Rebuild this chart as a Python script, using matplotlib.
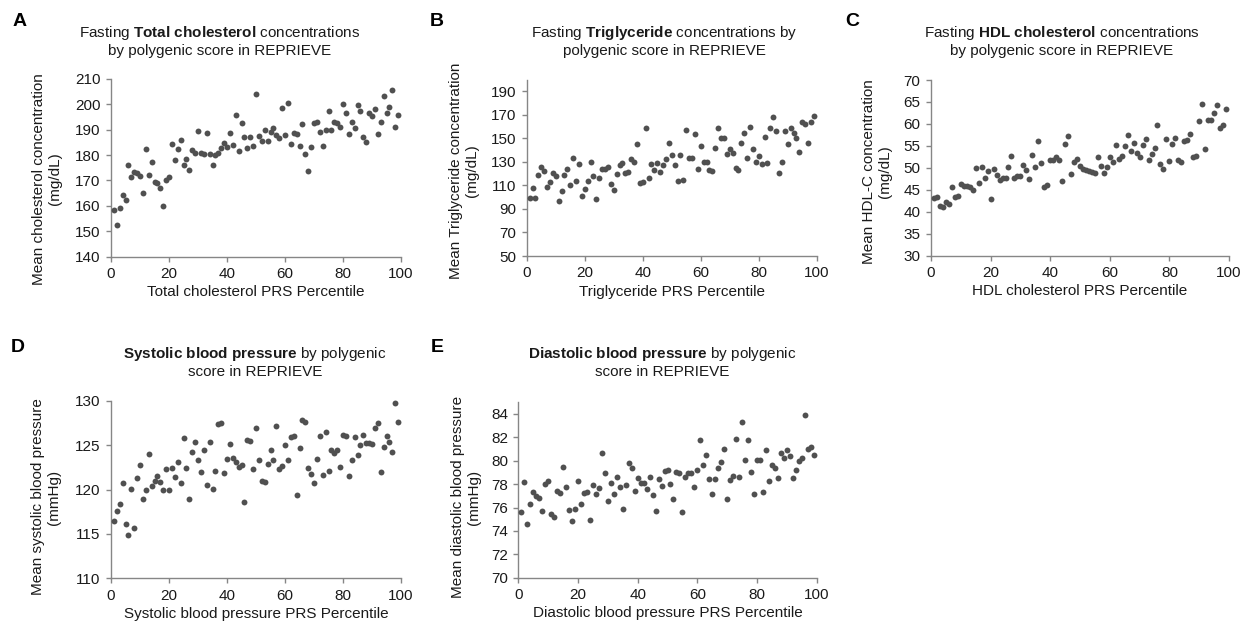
import numpy as np
import matplotlib
matplotlib.use("Agg")
import matplotlib.pyplot as plt

plt.rcParams['font.family'] = ['Liberation Sans', 'DejaVu Sans']
plt.rcParams['mathtext.fontset'] = 'custom'
plt.rcParams['mathtext.rm'] = 'Liberation Sans'
plt.rcParams['mathtext.bf'] = 'Liberation Sans:bold'
plt.rcParams['mathtext.it'] = 'Liberation Sans:italic'

# percentile bins 1..99
percentile = np.arange(1, 100)

total_chol = [
    158.3, 152.4, 159.2, 164.2, 162.2, 176.1, 171.2, 173.4, 173.0, 171.8,
    165.1, 182.2, 172.1, 177.4, 169.5, 168.8, 167.2, 160.0, 170.1, 171.2,
    184.3, 178.0, 182.4, 185.9, 175.9, 178.3, 174.3, 182.0, 180.9, 189.3,
    180.7, 180.3, 188.7, 180.3, 175.9, 180.0, 180.9, 182.9, 184.6, 183.3,
    188.9, 183.9, 195.7, 181.6, 192.6, 187.0, 182.9, 187.2, 183.7, 203.9,
    187.5, 185.7, 190.0, 185.7, 189.2, 190.5, 187.9, 186.8, 198.7, 187.9,
    200.7, 184.2, 188.6, 188.3, 183.6, 192.1, 180.4, 173.9, 183.0, 192.6,
    192.9, 189.2, 183.4, 190.0, 197.4, 190.0, 193.2, 192.8, 190.9, 200.3,
    196.4, 188.2, 192.9, 190.8, 199.6, 197.2, 187.1, 185.0, 196.6, 195.5,
    198.2, 188.2, 193.2, 203.2, 196.4, 199.1, 205.7, 191.2, 195.8]

triglyceride = [
    99.2, 107.4, 98.9, 118.7, 125.8, 122.4, 108.5, 112.8, 120.1, 118.1,
    96.4, 104.9, 118.7, 123.5, 110.5, 132.9, 113.6, 128.0, 101.2, 107.1,
    113.9, 130.0, 118.1, 98.6, 116.4, 124.1, 124.1, 125.2, 110.8, 106.0,
    119.8, 127.5, 128.6, 120.1, 121.0, 132.3, 129.5, 145.0, 112.2, 113.1,
    158.3, 115.9, 128.0, 122.7, 128.6, 121.3, 126.9, 132.0, 145.6, 136.0,
    127.5, 113.3, 135.4, 114.2, 156.6, 133.4, 133.4, 153.8, 124.1, 143.6,
    129.5, 129.7, 123.2, 122.1, 141.3, 158.9, 149.8, 150.1, 136.5, 141.1,
    137.1, 124.7, 123.0, 145.9, 154.6, 133.4, 159.4, 140.8, 129.7, 134.8,
    128.0, 150.7, 129.2, 158.3, 167.7, 156.3, 120.1, 130.0, 156.3, 145.0,
    158.3, 154.6, 150.1, 138.2, 164.0, 162.0, 146.2, 164.0, 168.8]

hdl = [
    43.1, 43.3, 41.4, 41.1, 42.2, 41.8, 45.7, 43.3, 43.6, 46.3,
    45.9, 45.9, 45.6, 45.0, 49.9, 46.6, 50.2, 47.6, 49.2, 43.0,
    49.7, 48.3, 47.2, 47.7, 47.7, 50.3, 52.8, 47.7, 48.1, 48.2,
    50.7, 49.4, 47.5, 52.9, 50.2, 56.0, 51.0, 45.6, 46.2, 51.8,
    51.7, 52.4, 51.9, 47.0, 55.4, 57.3, 48.6, 51.3, 52.1, 50.4,
    49.8, 49.5, 49.3, 49.0, 48.8, 52.5, 50.4, 48.9, 50.3, 52.5,
    51.3, 55.1, 52.0, 52.7, 54.9, 57.4, 53.9, 55.6, 53.3, 52.5,
    55.2, 56.6, 51.7, 53.1, 54.5, 59.8, 50.8, 49.8, 56.6, 51.6,
    55.4, 56.8, 51.7, 51.3, 56.0, 56.3, 57.7, 52.5, 52.7, 60.7,
    64.6, 54.2, 60.9, 60.8, 62.4, 64.2, 59.0, 59.7, 63.5]

systolic = [
    116.5, 117.6, 118.4, 120.7, 116.1, 114.9, 120.1, 115.7, 121.3, 122.8,
    119.0, 120.0, 124.0, 120.4, 121.0, 121.5, 120.9, 120.0, 122.3, 120.0,
    122.4, 121.4, 123.1, 120.8, 125.8, 122.4, 118.9, 124.2, 125.4, 123.3,
    122.0, 124.5, 120.5, 125.4, 120.1, 122.1, 127.4, 127.5, 121.9, 123.5,
    125.2, 123.6, 123.1, 122.5, 122.8, 118.6, 125.6, 125.5, 122.3, 126.9,
    123.3, 121.0, 120.9, 122.9, 124.5, 123.4, 127.2, 122.3, 122.7, 125.0,
    123.3, 125.9, 126.0, 119.4, 124.7, 127.9, 127.6, 122.4, 121.8, 120.8,
    123.5, 126.1, 121.7, 126.5, 122.1, 124.5, 124.1, 124.5, 122.6, 126.2,
    126.1, 121.5, 123.3, 125.9, 123.9, 125.0, 126.2, 125.3, 125.3, 125.2,
    127.0, 127.5, 122.0, 124.8, 126.1, 125.4, 124.3, 129.8, 127.6]

diastolic = [
    75.65, 78.16, 74.63, 76.34, 77.33, 76.96, 76.82, 75.71, 77.99, 78.25,
    75.48, 75.17, 77.42, 77.25, 79.50, 77.79, 75.79, 74.88, 75.85, 78.30,
    76.34, 77.22, 77.30, 74.97, 77.96, 77.13, 77.68, 80.70, 78.93, 76.56,
    78.07, 77.16, 78.59, 77.73, 75.85, 77.93, 79.78, 79.36, 77.42, 78.56,
    78.07, 78.07, 77.59, 78.59, 77.11, 75.68, 78.44, 77.82, 79.10, 79.24,
    78.02, 76.76, 79.01, 78.93, 75.62, 78.59, 78.99, 78.99, 77.79, 79.21,
    81.75, 79.61, 80.47, 78.47, 77.19, 78.47, 79.36, 79.93, 80.98, 76.73,
    78.36, 78.73, 81.86, 78.64, 83.29, 80.04, 81.81, 79.01, 77.16, 80.10,
    80.04, 77.30, 80.89, 78.30, 79.61, 79.38, 78.53, 80.70, 80.24, 80.95,
    80.41, 78.56, 79.24, 79.98, 80.24, 83.91, 81.04, 81.18, 80.52]

W, H = 1252, 630
DOT = '#505050'
AXC = '#868686'

fig = plt.figure(figsize=(W / 100, H / 100), dpi=100)


def px_axes(x0, x1, ytop, ybot):
    # pixel box (top-left origin) -> figure fraction
    return fig.add_axes([x0 / W, 1 - ybot / H, (x1 - x0) / W, (ybot - ytop) / H])


def fig_text(x, y, s, **kw):
    return fig.text(x / W, 1 - y / H, s, **kw)


panels = [
    dict(box=(111, 401, 79, 256.5), y=total_chol, ylim=(140, 210), yticks=np.arange(140, 211, 10),
         xlabel='Total cholesterol PRS Percentile',
         ylabel='Mean cholesterol concentration\n(mg/dL)', ylpos=(47, 179),
         title='Fasting $\\mathbf{Total\\ cholesterol}$ concentrations\nby polygenic score in REPRIEVE',
         tpos=(220, 41), letter='A', lpos=(20, 21)),
    dict(box=(526.7, 816.7, 80.4, 256), y=triglyceride, ylim=(50, 199), yticks=np.arange(50, 191, 20),
         xlabel='Triglyceride PRS Percentile',
         ylabel='Mean Triglyceride concentration\n(mg/dL)', ylpos=(464, 171),
         title='Fasting $\\mathbf{Triglyceride}$ concentrations by\npolygenic score in REPRIEVE',
         tpos=(664, 41), letter='B', lpos=(437, 21)),
    dict(box=(931, 1229, 80, 255.7), y=hdl, ylim=(30, 70), yticks=np.arange(30, 71, 5),
         xlabel='HDL cholesterol PRS Percentile',
         ylabel='Mean HDL-C concentration\n(mg/dL)', ylpos=(877, 172),
         title='Fasting $\\mathbf{HDL\\ cholesterol}$ concentrations\nby polygenic score in REPRIEVE',
         tpos=(1062, 41), letter='C', lpos=(852, 21)),
    dict(box=(111, 401, 401, 578.3), y=systolic, ylim=(110, 130), yticks=np.arange(110, 131, 5),
         xlabel='Systolic blood pressure PRS Percentile',
         ylabel='Mean systolic blood pressure\n(mmHg)', ylpos=(46, 497),
         title='$\\mathbf{Systolic\\ blood\\ pressure}$ by polygenic\nscore in REPRIEVE',
         tpos=(255, 362), letter='D', lpos=(18, 348)),
    dict(box=(518.3, 816.7, 402.3, 577.7), y=diastolic, ylim=(70, 85), yticks=np.arange(70, 85, 2),
         xlabel='Diastolic blood pressure PRS Percentile',
         ylabel='Mean diastolic blood pressure\n(mmHg)', ylpos=(466, 497),
         title='$\\mathbf{Diastolic\\ blood\\ pressure}$ by polygenic\nscore in REPRIEVE',
         tpos=(662, 362), letter='E', lpos=(437, 348)),
]

for p in panels:
    ax = px_axes(*p['box'])
    ax.scatter(percentile, p['y'], s=18, color=DOT, linewidths=0, zorder=3, clip_on=False)
    ax.set_xlim(0, 100)
    ax.set_xticks(np.arange(0, 101, 20))
    ax.set_ylim(*p['ylim'])
    ax.set_yticks(p['yticks'])
    for side in ('top', 'right'):
        ax.spines[side].set_visible(False)
    for side in ('left', 'bottom'):
        ax.spines[side].set_color(AXC)
        ax.spines[side].set_linewidth(1.0)
    ax.tick_params(direction='out', length=3.5, width=1.0, color=AXC,
                   labelsize=11, labelcolor='#1a1a1a', pad=4)
    ax.set_xlabel(p['xlabel'], fontsize=11, color='#1a1a1a', labelpad=3)
    fig_text(*p['ylpos'], p['ylabel'], rotation=90, ha='center', va='center',
             multialignment='center', fontsize=11, color='#1a1a1a')
    fig_text(*p['tpos'], p['title'], ha='center', va='center',
             multialignment='center', fontsize=11, color='#1a1a1a')
    fig_text(*p['lpos'], p['letter'], ha='center', va='center',
             fontsize=14, fontweight='bold', color='black')

fig.savefig('out.png', dpi=100)
